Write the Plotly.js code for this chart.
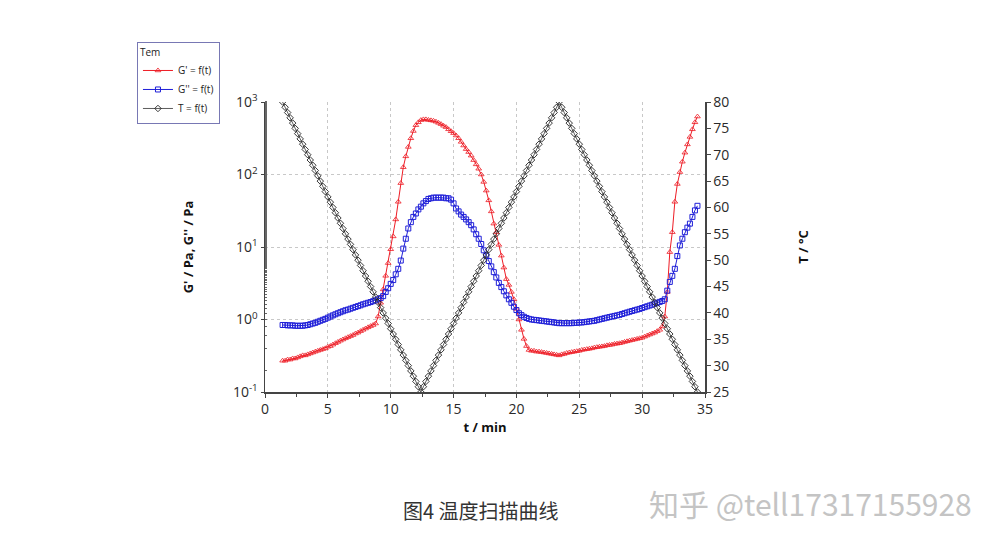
<!DOCTYPE html>
<html>
<head>
<meta charset="utf-8">
<script src="https://cdn.plot.ly/plotly-3.0.1.min.js"></script>
<style>html,body{margin:0;padding:0;background:#fff;}#chart{width:995px;height:544px;}</style>
</head>
<body>
<div id="chart"></div>
<script>
const timeMin = [
1.4,1.6,1.8,2.0,2.2,2.4,2.6,2.8,3.0,3.2,
3.4,3.6,3.8,4.0,4.2,4.4,4.6,4.8,5.0,5.2,
5.4,5.6,5.8,6.0,6.2,6.4,6.6,6.8,7.0,7.2,
7.4,7.6,7.8,8.0,8.2,8.4,8.6,8.8,9.0,9.2,
9.4,9.6,9.8,10.0,10.2,10.4,10.6,10.8,11.0,11.2,
11.4,11.6,11.8,12.0,12.2,12.4,12.6,12.8,13.0,13.2,
13.4,13.6,13.8,14.0,14.2,14.4,14.6,14.8,15.0,15.2,
15.4,15.6,15.8,16.0,16.2,16.4,16.6,16.8,17.0,17.2,
17.4,17.6,17.8,18.0,18.2,18.4,18.6,18.8,19.0,19.2,
19.4,19.6,19.8,20.0,20.2,20.4,20.6,20.8,21.0,21.2,
21.4,21.6,21.8,22.0,22.2,22.4,22.6,22.8,23.0,23.2,
23.4,23.6,23.8,24.0,24.2,24.4,24.6,24.8,25.0,25.2,
25.4,25.6,25.8,26.0,26.2,26.4,26.6,26.8,27.0,27.2,
27.4,27.6,27.8,28.0,28.2,28.4,28.6,28.8,29.0,29.2,
29.4,29.6,29.8,30.0,30.2,30.4,30.6,30.8,31.0,31.2,
31.4,31.6,31.8,32.0,32.2,32.4,32.6,32.8,33.0,33.2,
33.4,33.6,33.8,34.0,34.2,34.4
];
const storageModulus = [
0.27,0.27,0.28,0.28,0.29,0.29,0.30,0.31,0.32,0.32,
0.33,0.34,0.35,0.36,0.37,0.38,0.39,0.40,0.42,0.43,
0.45,0.47,0.49,0.51,0.53,0.55,0.57,0.59,0.61,0.64,
0.66,0.69,0.72,0.75,0.78,0.81,0.84,0.88,1.1,1.7,
2.6,4.0,6.0,9.3,14,24,42,76,126,178,
240,316,398,479,525,562,575,575,565,558,
550,535,515,495,470,450,420,395,372,345,
316,282,251,224,204,182,158,138,120,100,
79,60,44,31,21,16,10.7,7.6,5.2,3.6,
3.0,2.4,1.9,1.4,1.0,0.72,0.54,0.43,0.38,0.37,
0.37,0.36,0.36,0.355,0.35,0.345,0.34,0.335,0.33,0.325,
0.32,0.33,0.335,0.345,0.35,0.355,0.36,0.365,0.37,0.38,
0.385,0.39,0.395,0.40,0.41,0.415,0.42,0.425,0.43,0.44,
0.445,0.45,0.46,0.465,0.47,0.48,0.49,0.50,0.51,0.52,
0.53,0.54,0.55,0.56,0.58,0.60,0.62,0.64,0.66,0.69,
0.72,0.80,1.1,2.4,8.5,16,42,74,108,150,
200,260,330,420,525,630
];
const lossModulus = [
0.84,0.84,0.83,0.83,0.83,0.82,0.82,0.82,0.82,0.83,
0.84,0.86,0.88,0.90,0.93,0.96,0.99,1.02,1.06,1.10,
1.14,1.18,1.22,1.26,1.30,1.34,1.37,1.41,1.45,1.49,
1.53,1.57,1.62,1.66,1.70,1.74,1.79,1.84,1.90,1.97,
2.1,2.4,2.7,3.1,3.5,4.2,5.0,6.5,9.5,13,
18,22,26,29,33,36,40,43,46,47,
48,48,48,48,48,47,47,45,40,34,
31,28,26,24,22,20,17.5,15,13,11,
9,7.6,6.4,5.4,4.5,3.8,3.2,2.8,2.45,2.15,
1.9,1.7,1.5,1.35,1.22,1.15,1.09,1.05,1.02,1.0,
0.99,0.98,0.97,0.96,0.95,0.94,0.93,0.92,0.91,0.90,
0.89,0.89,0.89,0.89,0.89,0.89,0.90,0.90,0.91,0.91,
0.92,0.93,0.94,0.95,0.96,0.98,1.00,1.02,1.04,1.06,
1.08,1.10,1.12,1.14,1.16,1.19,1.22,1.25,1.28,1.31,
1.34,1.37,1.40,1.44,1.48,1.52,1.56,1.60,1.65,1.70,
1.75,1.80,1.9,2.5,3.3,4.0,5.0,7.5,10.5,13,
16,18.5,21,26,32,37
];
const temperature = [
80,79,78,77,76,75,74,73,72,71,
70,69,68,67,66,65,64,63,62,61,
60,59,58,57,56,55,54,53,52,51,
50,49,48,47,46,45,44,43,42,41,
40,39,38,37,36,35,34,33,32,31,
30,29,28,27,26,25,26,27,28,29,
30,31,32,33,34,35,36,37,38,39,
40,41,42,43,44,45,46,47,48,49,
50,51,52,53,54,55,56,57,58,59,
60,61,62,63,64,65,66,67,68,69,
70,71,72,73,74,75,76,77,78,79,
80,79,78,77,76,75,74,73,72,71,
70,69,68,67,66,65,64,63,62,61,
60,59,58,57,56,55,54,53,52,51,
50,49,48,47,46,45,44,43,42,41,
40,39,38,37,36,35,34,33,32,31,
30,29,28,27,26,25
];
const modulusTickVals = [0.1, 1, 10, 100, 1000];
const modulusTickText = ["10<sup>-1</sup>", "10<sup>0</sup>", "10<sup>1</sup>", "10<sup>2</sup>", "10<sup>3</sup>"];
const seriesNames = ["G' = f(t)", "G'' = f(t)", "T = f(t)"];
const legendTitle = "Tem";
const xTitle = "t / min";
const yTitle = "G' / Pa, G'' / Pa";
const y2Title = "T / °C";
const caption = "图4 温度扫描曲线";
const watermark = "知乎 @tell17317155928";

const baseFamily = "Open Sans, Noto Sans, sans-serif";
const tickFont = {family: baseFamily, size: 14, color: "#2a2a2a"};
const titleFont = {family: baseFamily, size: 13, color: "#111", weight: "bold"};

const traces = [
  {x: timeMin, y: storageModulus, name: seriesNames[0], type: "scatter", mode: "lines+markers",
   line: {color: "#ee1c25", width: 1}, marker: {symbol: "triangle-up-open", size: 5, color: "#ee1c25", line: {width: 0.8}}},
  {x: timeMin, y: lossModulus, name: seriesNames[1], type: "scatter", mode: "lines+markers",
   line: {color: "#1f1fd8", width: 1}, marker: {symbol: "square-open", size: 5, color: "#1f1fd8", line: {width: 1}}},
  {x: timeMin, y: temperature, name: seriesNames[2], type: "scatter", mode: "lines+markers", yaxis: "y2",
   line: {color: "#333", width: 0.8}, marker: {symbol: "diamond-open", size: 5, color: "#222", line: {width: 0.9}}}
];

const layout = {
  width: 995, height: 544,
  margin: {l: 265, r: 290, t: 102, b: 152, pad: 0},
  paper_bgcolor: "#fff", plot_bgcolor: "#fff",
  showlegend: true,
  legend: {
    x: -0.291, y: 1.207, xanchor: "left", yanchor: "top",
    bgcolor: "#fff", bordercolor: "#7878b4", borderwidth: 1,
    font: {family: baseFamily, size: 10, color: "#222"},
    title: {text: legendTitle, font: {family: baseFamily, size: 10, color: "#222"}},
    itemwidth: 30, tracegroupgap: 0
  },
  xaxis: {
    range: [0, 35], dtick: 5, tick0: 0,
    showline: true, linecolor: "#444", linewidth: 1.5, mirror: false,
    ticks: "outside", ticklen: 4, tickcolor: "#444",
    minor: {dtick: 2.5, ticks: "outside", ticklen: 3, tickcolor: "#444", showgrid: false},
    showgrid: true, gridcolor: "#c8c8c8", griddash: "dot", gridwidth: 1,
    zeroline: false, tickfont: tickFont,
    title: {text: xTitle, font: titleFont, standoff: 5}
  },
  yaxis: {
    type: "log", range: [-1, 3], tickmode: "array", tickvals: modulusTickVals, ticktext: modulusTickText,
    showline: true, linecolor: "#444", linewidth: 1.5,
    ticks: "outside", ticklen: 3, tickcolor: "#444",
    minor: {ticks: "inside", ticklen: 2, tickcolor: "#666", showgrid: false},
    showgrid: true, gridcolor: "#c8c8c8", griddash: "dot", gridwidth: 1,
    zeroline: false, tickfont: tickFont,
    title: {text: yTitle, font: titleFont, standoff: 36}
  },
  yaxis2: {
    overlaying: "y", side: "right", range: [25, 80], dtick: 5,
    showline: true, linecolor: "#444", linewidth: 1.5,
    ticks: "outside", ticklen: 4, tickcolor: "#444",
    showgrid: false, zeroline: false, tickfont: tickFont,
    title: {text: y2Title, font: titleFont, standoff: 70}
  },
  annotations: [
    {text: caption, xref: "paper", yref: "paper", x: 0.491, y: -0.41, xanchor: "center", yanchor: "middle", showarrow: false,
     font: {family: "Noto Sans CJK SC, sans-serif", size: 20, color: "#333"}},
    {text: watermark, xref: "paper", yref: "paper", x: 1.239, y: -0.383, xanchor: "center", yanchor: "middle", showarrow: false,
     font: {family: "Noto Sans CJK SC, sans-serif", size: 30, color: "#c4c4c4"}}
  ]
};

Plotly.newPlot("chart", traces, layout, {displayModeBar: false, staticPlot: true});
</script>
</body>
</html>
